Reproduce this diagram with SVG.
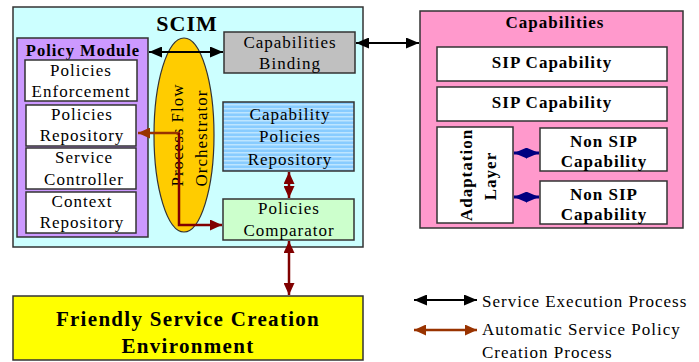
<svg xmlns="http://www.w3.org/2000/svg" width="699" height="362" viewBox="0 0 699 362" font-family="Liberation Serif, serif">
<defs>
<style>
text{font-family:'Liberation Serif','Times New Roman','DejaVu Serif',serif;font-size:17px;letter-spacing:1px;fill:#000;text-anchor:middle}
.b{font-weight:bold}
.box{stroke:#333;stroke-width:1.5}
.w{fill:#fff}
.blk{stroke:#000;stroke-width:2;fill:none}
.rust{stroke:#993300;stroke-width:2.5;fill:none}
.dred{stroke:#800000;stroke-width:2.5;fill:none}
.navy{stroke:#000080;stroke-width:3;fill:none}
</style>
<marker id="mb" markerUnits="userSpaceOnUse" markerWidth="13" markerHeight="11" refX="13" refY="5.5" orient="auto-start-reverse"><path d="M0,0L13,5.5L0,11z" fill="#000"/></marker>
<marker id="mr" markerUnits="userSpaceOnUse" markerWidth="12" markerHeight="11" refX="12" refY="5.5" orient="auto-start-reverse"><path d="M0,0L12,5.5L0,11z" fill="#993300"/></marker>
<marker id="md" markerUnits="userSpaceOnUse" markerWidth="12" markerHeight="11" refX="12" refY="5.5" orient="auto-start-reverse"><path d="M0,0L12,5.5L0,11z" fill="#800000"/></marker>
<marker id="mn" markerUnits="userSpaceOnUse" markerWidth="13" markerHeight="11" refX="13" refY="5.5" orient="auto-start-reverse"><path d="M0,0L13,5.5L0,11z" fill="#000080"/></marker>
<pattern id="stripes" patternUnits="userSpaceOnUse" width="8" height="4"><rect width="8" height="4" fill="#88CCFF"/><rect width="8" height="1.5" fill="#BDE5FF"/></pattern>
</defs>

<g id="scim">
<rect class="box" x="13" y="7" width="350" height="240" fill="#CCFFFF"/>
<text class="b" x="187" y="31" style="font-size:22px">SCIM</text>
</g>

<g id="policy-module">
<rect class="box" x="17" y="38" width="131" height="199" fill="#CC99FF"/>
<text class="b" x="83" y="55.5" style="font-size:16.5px">Policy Module</text>
</g>
<g id="policies-enforcement">
<rect class="box w" x="25" y="60" width="112" height="41"/>
<text x="81" y="76">Policies</text><text x="81" y="97">Enforcement</text>
</g>
<g id="policies-repository">
<rect class="box w" x="26" y="105" width="110" height="41"/>
<text x="82" y="120">Policies</text><text x="82" y="141">Repository</text>
</g>
<g id="service-controller">
<rect class="box w" x="26" y="148" width="110" height="41"/>
<text x="84" y="163">Service</text><text x="84" y="185">Controller</text>
</g>
<g id="context-repository">
<rect class="box w" x="26" y="192" width="110" height="41"/>
<text x="82" y="207">Context</text><text x="82" y="228">Repository</text>
</g>

<g id="orchestrator">
<ellipse cx="184" cy="135" rx="30" ry="97" fill="#FFCC00" stroke="#333" stroke-width="1.2"/>
<text transform="translate(183,135) rotate(-90)">Process Flow</text>
<text transform="translate(207,138) rotate(-90)">Orchestrator</text>
</g>

<g id="capabilities-binding">
<rect class="box" x="224" y="32" width="131" height="41" fill="#C0C0C0"/>
<text x="290" y="48">Capabilities</text><text x="290" y="69">Binding</text>
</g>
<g id="capability-policies-repository">
<rect class="box" x="223" y="102" width="131" height="69" fill="url(#stripes)"/>
<text x="290" y="120">Capability</text><text x="290" y="142">Policies</text><text x="290" y="165">Repository</text>
</g>
<g id="policies-comparator">
<rect class="box" x="223" y="199" width="131" height="41" fill="#CCFFCC"/>
<text x="289" y="214">Policies</text><text x="289" y="236">Comparator</text>
</g>

<g id="capabilities">
<rect class="box" x="420" y="11" width="263" height="217" fill="#FF99CC"/>
<text class="b" x="555" y="28">Capabilities</text>
</g>
<g id="sip-capability-1">
<rect class="box w" x="437" y="47" width="230" height="34"/>
<text class="b" x="552" y="68">SIP Capability</text>
</g>
<g id="sip-capability-2">
<rect class="box w" x="437" y="87" width="230" height="34"/>
<text class="b" x="552" y="108">SIP Capability</text>
</g>
<g id="adaptation-layer">
<rect class="box w" x="437" y="127" width="76" height="96"/>
<text class="b" transform="translate(472,175) rotate(-90)">Adaptation</text>
<text class="b" transform="translate(496,176) rotate(-90)">Layer</text>
</g>
<g id="non-sip-capability-1">
<rect class="box w" x="540" y="128" width="127" height="43"/>
<text class="b" x="604" y="147">Non SIP</text><text class="b" x="604" y="167">Capability</text>
</g>
<g id="non-sip-capability-2">
<rect class="box w" x="540" y="181" width="127" height="43"/>
<text class="b" x="604" y="200">Non SIP</text><text class="b" x="604" y="220">Capability</text>
</g>

<g id="friendly-service-creation-environment">
<rect class="box" x="13" y="296" width="350" height="64" fill="#FFFF00"/>
<text class="b" x="188" y="326" style="font-size:21px;letter-spacing:1.3px">Friendly Service Creation</text>
<text class="b" x="188" y="353" style="font-size:21px;letter-spacing:1.3px">Environment</text>
</g>

<g id="connectors">
<line class="blk" x1="149" y1="52" x2="223" y2="52" marker-start="url(#mb)" marker-end="url(#mb)"/>
<line class="blk" x1="356" y1="43" x2="419" y2="43" marker-start="url(#mb)" marker-end="url(#mb)"/>
<line class="rust" x1="180" y1="133" x2="138" y2="133" marker-end="url(#mr)"/>
<polyline class="dred" points="179,133 179,225 222,225" marker-end="url(#md)"/>
<line class="dred" x1="289" y1="172" x2="289" y2="198" marker-start="url(#md)" marker-end="url(#md)"/>
<line class="dred" x1="289" y1="241" x2="289" y2="295" stroke-width="2" marker-start="url(#md)" marker-end="url(#md)"/>
<line class="navy" x1="514" y1="153" x2="539" y2="153" marker-start="url(#mn)" marker-end="url(#mn)"/>
<line class="navy" x1="514" y1="197" x2="539" y2="197" marker-start="url(#mn)" marker-end="url(#mn)"/>
</g>

<g id="legend">
<line class="blk" x1="414" y1="300" x2="477" y2="300" marker-start="url(#mb)" marker-end="url(#mb)"/>
<line class="rust" x1="414" y1="330" x2="477" y2="330" marker-start="url(#mr)" marker-end="url(#mr)"/>
<text x="482" y="307" style="text-anchor:start">Service Execution Process</text>
<text x="482" y="335" style="text-anchor:start">Automatic Service Policy</text>
<text x="482" y="358" style="text-anchor:start">Creation Process</text>
</g>
</svg>
